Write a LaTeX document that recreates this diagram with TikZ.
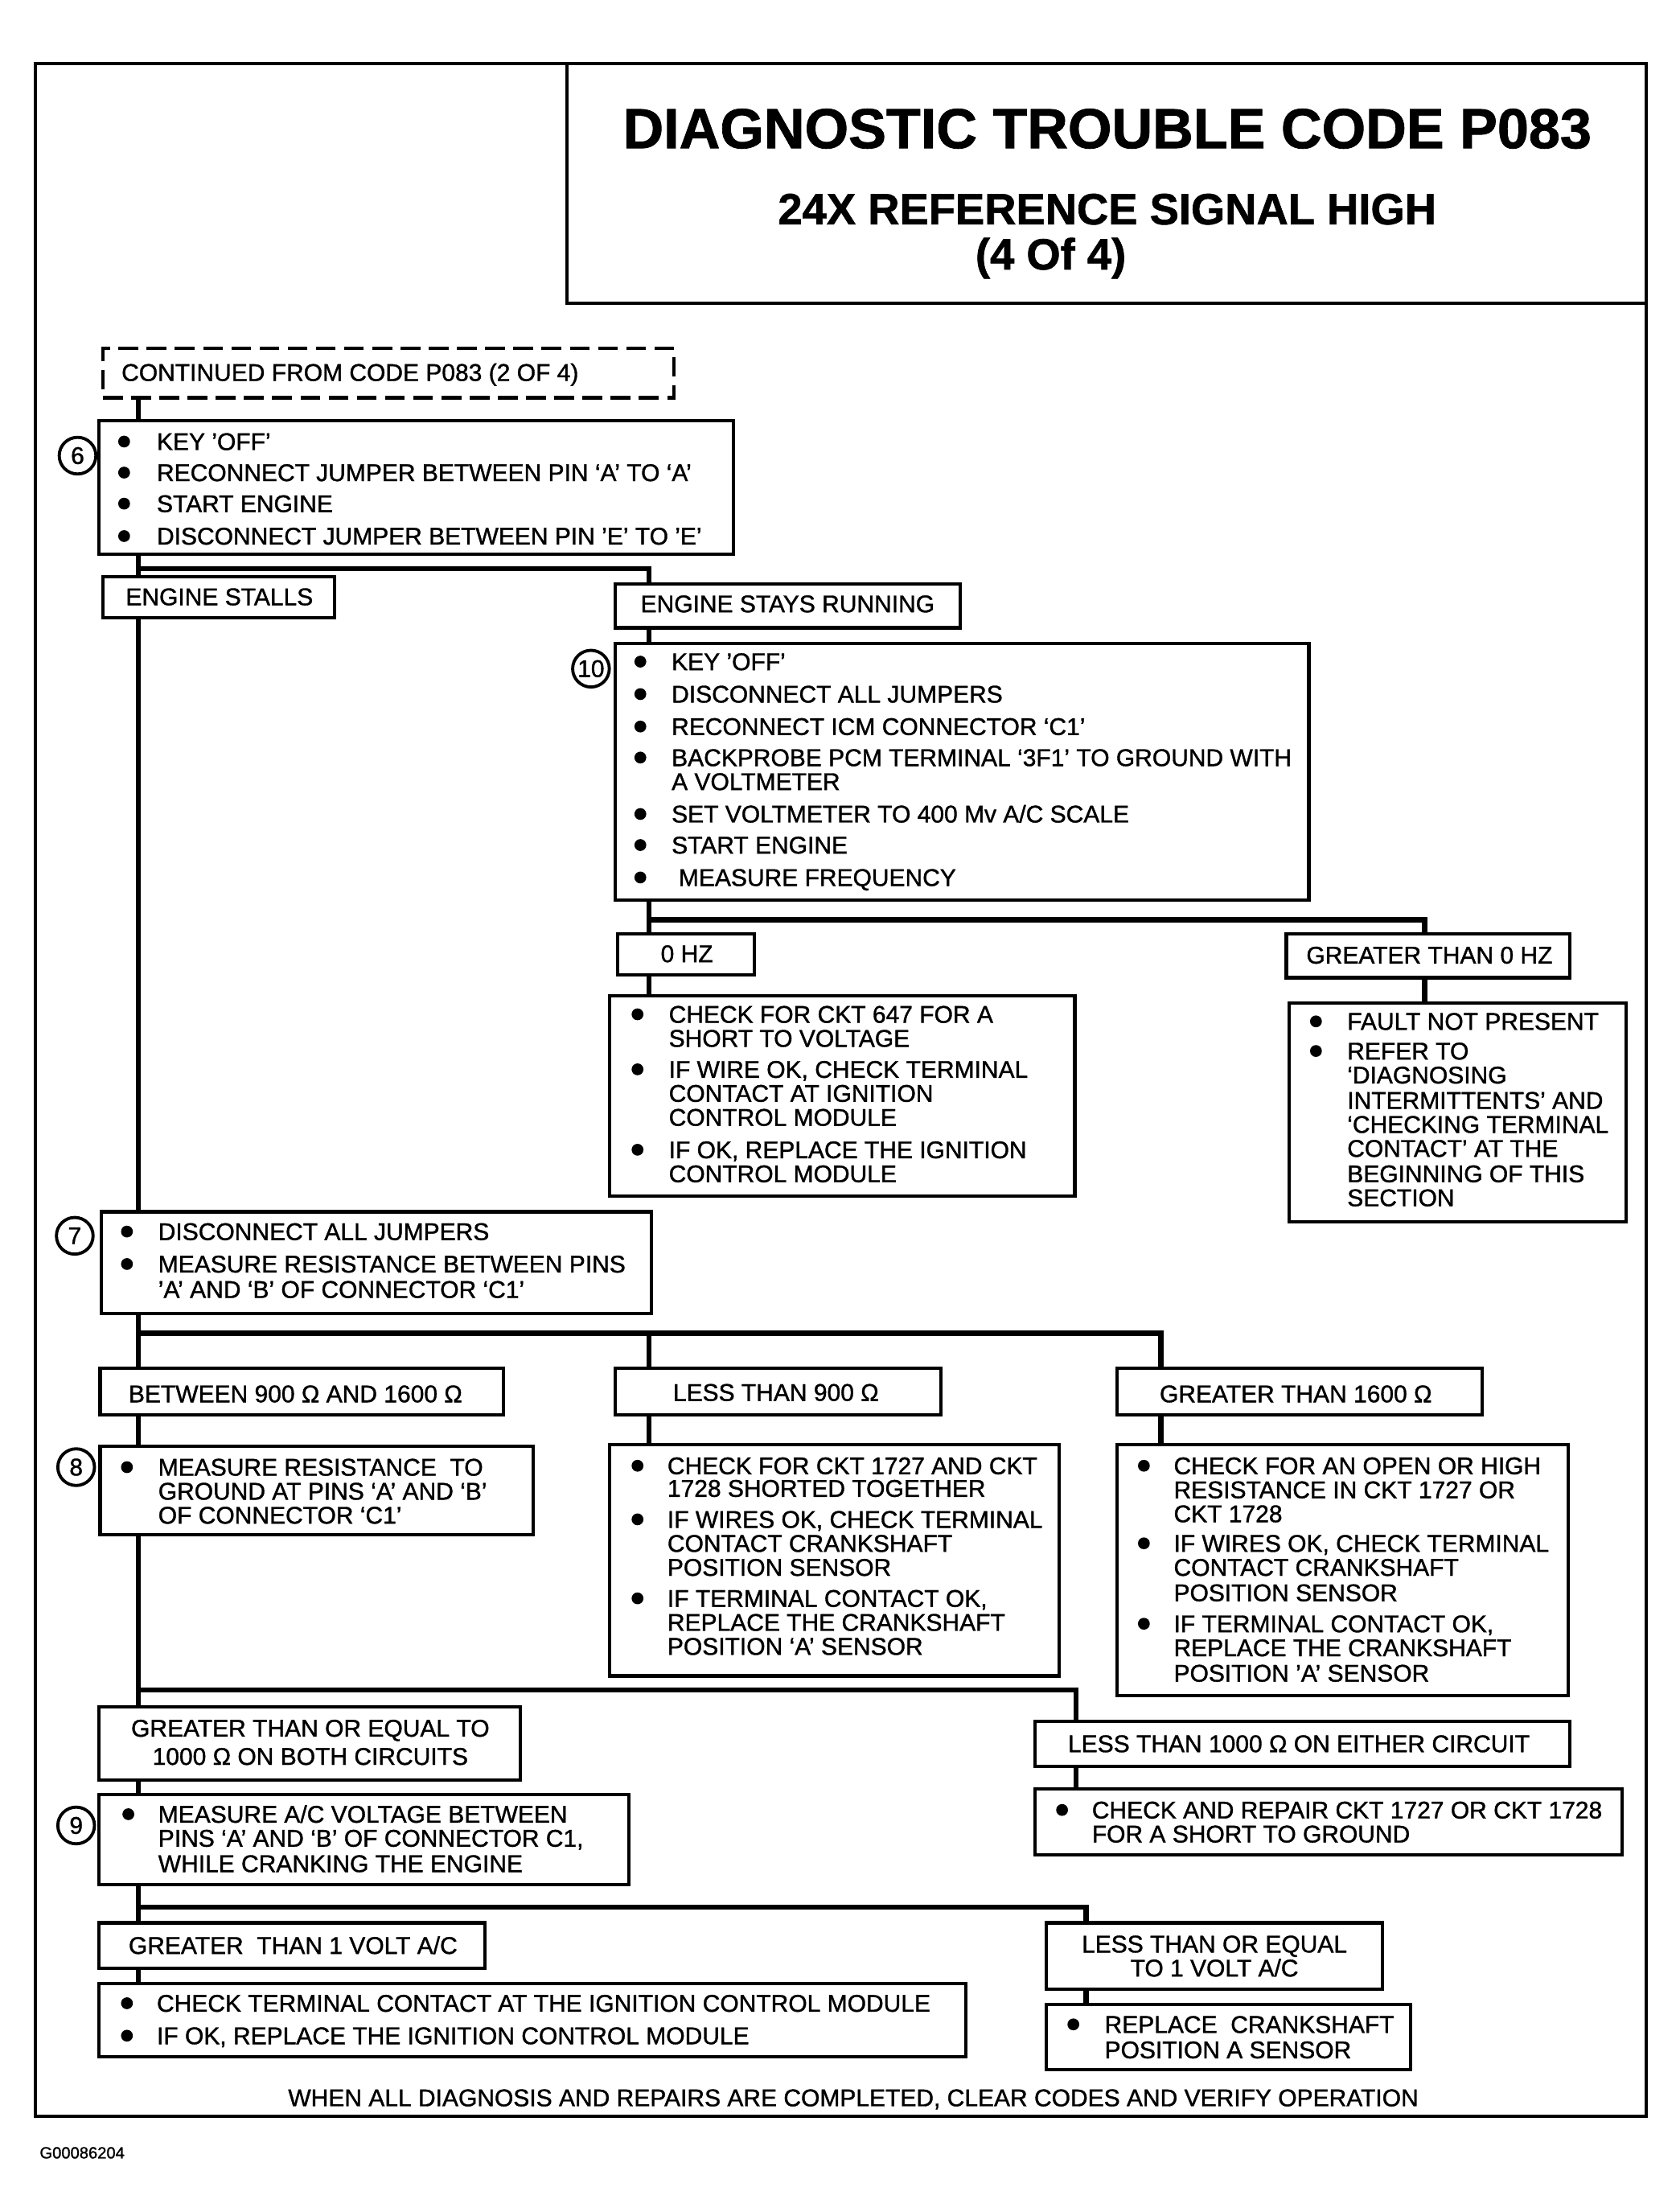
\documentclass[tikz,border=0pt]{standalone}
\usepackage{fontspec}
\setmainfont{Liberation Sans}[FakeBold=1.2]
\newcounter{tn}
\newcommand\bodyfont{\fontsize{17.1}{21}\selectfont}
\tikzset{
  box/.style={draw,rectangle,line width=2.4pt,inner sep=0pt},
  dbox/.style={box,dash pattern=on 14pt off 6pt},
  conn/.style={line width=3.6pt,line cap=rect,line join=miter},
  txt/.style={inner sep=0pt,font=\bodyfont},
  num/.style={draw,circle,line width=2.2pt,minimum size=26pt,inner sep=0pt,font=\bodyfont},
}
% box from corner (x1,y1) to (x2,y2)
\newcommand\bx[6][box]{\node[#1,minimum width={(#5-#3)*1pt},minimum height={(#6-#4)*1pt}] (#2) at ({(#3+#5)/2},{(#4+#6)/2}) {};}
% text line starting at x, centred on y
\newcommand\tx[3]{\stepcounter{tn}\node[txt,anchor=base west] (t\arabic{tn}) at (#1,#2+6) {#3};}
% centred text line
\newcommand\tc[3]{\stepcounter{tn}\node[txt,anchor=base] (t\arabic{tn}) at (#1,#2+6) {#3};}
% bullet
\newcommand\bu[2]{\fill (#1,#2) circle[radius=4.2];}
\begin{document}
\begin{tikzpicture}[x=1pt,y=-1pt]
\useasboundingbox (0,0) rectangle (1191,1568);
\fill[white] (0,0) rectangle (1191,1568);

% frame and title
\bx[box,line width=2.2pt]{frame}{25}{45}{1167}{1500}
\bx[box,line width=2.2pt]{tbox}{402}{45}{1167}{215}
\node[inner sep=0pt,anchor=base,font=\fontsize{40}{48}\selectfont\bfseries] (title1) at (785,105) {DIAGNOSTIC TROUBLE CODE P083};
\node[inner sep=0pt,anchor=base,font=\fontsize{31}{37}\selectfont\bfseries] (title2) at (785,159) {24X REFERENCE SIGNAL HIGH};
\node[inner sep=0pt,anchor=base,font=\fontsize{31}{37}\selectfont\bfseries] (title3) at (745,191) {(4 Of 4)};

% boxes
\bx[dbox]{cont}{73}{247}{478}{282}
\bx{b6}{70}{298}{520}{393}
\bx{stalls}{73}{409}{237}{438}
\bx{esr}{436}{414}{681}{445}
\bx{b10}{436}{456}{928}{638}
\bx{hz0}{438}{662}{535}{691}
\bx{gt0}{912}{662}{1113}{693}
\bx{ck647}{432}{706}{762}{848}
\bx{fault}{914}{711}{1153}{866}
\bx{b7}{72}{859}{462}{931}
\bx{btw}{71}{970}{357}{1003}
\bx{lt900}{436}{970}{667}{1003}
\bx{gt1600}{792}{970}{1051}{1003}
\bx{b8}{71}{1025}{378}{1088}
\bx{lt900b}{432}{1024}{751}{1188}
\bx{gt1600b}{792}{1024}{1112}{1202}
\bx{gte}{70}{1210}{369}{1262}
\bx{lt1000}{734}{1220}{1113}{1252}
\bx{b9}{70}{1272}{446}{1336}
\bx{rep}{734}{1268}{1150}{1315}
\bx{gt1v}{70}{1363}{344}{1395}
\bx{lte1}{742}{1363}{980}{1410}
\bx{ckicm}{70}{1406}{685}{1458}
\bx{repl}{742}{1421}{1000}{1467}

% step numbers
\node[num] (n6) at (55,323) {6};
\node[num] (n10) at (419,474) {10};
\node[num] (n7) at (53,876) {7};
\node[num] (n8) at (54,1040) {8};
\node[num] (n9) at (54,1294) {9};

% connectors
\coordinate (sp) at (98,0);
\draw[conn] (cont.south -| sp) -- (b6.north -| sp);
\draw[conn] (b6.south -| sp) -- (stalls.north -| sp);
\coordinate (j1) at (98,403); \coordinate (j1r) at (460,403);
\draw[conn] (j1) -- (j1r) -- (esr.north -| j1r);
\draw[conn] (stalls.south -| sp) -- (b7.north -| sp);
\draw[conn] (esr.south -| j1r) -- (b10.north -| j1r);
\coordinate (j2) at (460,652); \coordinate (j2r) at (1010,652);
\draw[conn] (b10.south -| j2) -- (hz0.north -| j2);
\draw[conn] (j2) -- (j2r) -- (gt0.north -| j2r);
\draw[conn] (hz0.south -| j2) -- (ck647.north -| j2);
\draw[conn] (gt0.south -| j2r) -- (fault.north -| j2r);
\coordinate (j3) at (98,945); \coordinate (j3m) at (460,945); \coordinate (j3r) at (823,945);
\draw[conn] (b7.south -| sp) -- (btw.north -| sp);
\draw[conn] (j3) -- (j3r) -- (gt1600.north -| j3r);
\draw[conn] (j3m) -- (lt900.north -| j3m);
\draw[conn] (btw.south -| sp) -- (b8.north -| sp);
\draw[conn] (lt900.south -| j3m) -- (lt900b.north -| j3m);
\draw[conn] (gt1600.south -| j3r) -- (gt1600b.north -| j3r);
\coordinate (j4) at (98,1198); \coordinate (j4r) at (763,1198);
\draw[conn] (b8.south -| sp) -- (gte.north -| sp);
\draw[conn] (j4) -- (j4r) -- (lt1000.north -| j4r);
\draw[conn] (gte.south -| sp) -- (b9.north -| sp);
\draw[conn] (lt1000.south -| j4r) -- (rep.north -| j4r);
\coordinate (j5) at (98,1352); \coordinate (j5r) at (770,1352);
\draw[conn] (b9.south -| sp) -- (gt1v.north -| sp);
\draw[conn] (j5) -- (j5r) -- (lte1.north -| j5r);
\draw[conn] (gt1v.south -| sp) -- (ckicm.north -| sp);
\draw[conn] (lte1.south -| j5r) -- (repl.north -| j5r);

% texts
\tx{86}{264}{CONTINUED FROM CODE P083 (2 OF 4)}

\bu{88}{313}\tx{111}{313}{KEY 'OFF'}
\bu{88}{335}\tx{111}{335}{RECONNECT JUMPER BETWEEN PIN `A' TO `A'}
\bu{88}{357}\tx{111}{357}{START ENGINE}
\bu{88}{380}\tx{111}{380}{DISCONNECT JUMPER BETWEEN PIN 'E' TO 'E'}

\tx{89}{423}{ENGINE STALLS}
\tx{454}{428}{ENGINE STAYS RUNNING}

\bu{454}{469}\tx{476}{469}{KEY 'OFF'}
\bu{454}{492}\tx{476}{492}{DISCONNECT ALL JUMPERS}
\bu{454}{515}\tx{476}{515}{RECONNECT ICM CONNECTOR `C1'}
\bu{454}{537}\tx{476}{537}{BACKPROBE PCM TERMINAL `3F1' TO GROUND WITH}
\tx{476}{554}{A VOLTMETER}
\bu{454}{577}\tx{476}{577}{SET VOLTMETER TO 400 Mv A/C SCALE}
\bu{454}{599}\tx{476}{599}{START ENGINE}
\bu{454}{622}\tx{481}{622}{MEASURE FREQUENCY}

\tc{487}{676}{0 HZ}
\tx{926}{677}{GREATER THAN 0 HZ}

\bu{452}{719}\tx{474}{719}{CHECK FOR CKT 647 FOR A}
\tx{474}{736}{SHORT TO VOLTAGE}
\bu{452}{758}\tx{474}{758}{IF WIRE OK, CHECK TERMINAL}
\tx{474}{775}{CONTACT AT IGNITION}
\tx{474}{792}{CONTROL MODULE}
\bu{452}{815}\tx{474}{815}{IF OK, REPLACE THE IGNITION}
\tx{474}{832}{CONTROL MODULE}

\bu{933}{724}\tx{955}{724}{FAULT NOT PRESENT}
\bu{933}{745}\tx{955}{745}{REFER TO}
\tx{955}{762}{`DIAGNOSING}
\tx{955}{780}{INTERMITTENTS' AND}
\tx{955}{797}{`CHECKING TERMINAL}
\tx{955}{814}{CONTACT' AT THE}
\tx{955}{832}{BEGINNING OF THIS}
\tx{955}{849}{SECTION}

\bu{90}{873}\tx{112}{873}{DISCONNECT ALL JUMPERS}
\bu{90}{896}\tx{112}{896}{MEASURE RESISTANCE BETWEEN PINS}
\tx{112}{914}{'A' AND `B' OF CONNECTOR `C1'}

\tx{91}{988}{BETWEEN 900 Ω AND 1600 Ω}
\tx{477}{987}{LESS THAN 900 Ω}
\tx{822}{988}{GREATER THAN 1600 Ω}

\bu{90}{1040}\tx{112}{1040}{MEASURE RESISTANCE\ \ TO}
\tx{112}{1057}{GROUND AT PINS `A' AND `B'}
\tx{112}{1074}{OF CONNECTOR `C1'}

\bu{452}{1039}\tx{473}{1039}{CHECK FOR CKT 1727 AND CKT}
\tx{473}{1055}{1728 SHORTED TOGETHER}
\bu{452}{1077}\tx{473}{1077}{IF WIRES OK, CHECK TERMINAL}
\tx{473}{1094}{CONTACT CRANKSHAFT}
\tx{473}{1111}{POSITION SENSOR}
\bu{452}{1133}\tx{473}{1133}{IF TERMINAL CONTACT OK,}
\tx{473}{1150}{REPLACE THE CRANKSHAFT}
\tx{473}{1167}{POSITION `A' SENSOR}

\bu{811}{1039}\tx{832}{1039}{CHECK FOR AN OPEN OR HIGH}
\tx{832}{1056}{RESISTANCE IN CKT 1727 OR}
\tx{832}{1073}{CKT 1728}
\bu{811}{1094}\tx{832}{1094}{IF WIRES OK, CHECK TERMINAL}
\tx{832}{1111}{CONTACT CRANKSHAFT}
\tx{832}{1129}{POSITION SENSOR}
\bu{811}{1151}\tx{832}{1151}{IF TERMINAL CONTACT OK,}
\tx{832}{1168}{REPLACE THE CRANKSHAFT}
\tx{832}{1186}{POSITION 'A' SENSOR}

\tc{220}{1225}{GREATER THAN OR EQUAL TO}
\tc{220}{1245}{1000 Ω ON BOTH CIRCUITS}
\tx{757}{1236}{LESS THAN 1000 Ω ON EITHER CIRCUIT}

\bu{91}{1286}\tx{112}{1286}{MEASURE A/C VOLTAGE BETWEEN}
\tx{112}{1303}{PINS `A' AND `B' OF CONNECTOR C1,}
\tx{112}{1321}{WHILE CRANKING THE ENGINE}

\bu{753}{1283}\tx{774}{1283}{CHECK AND REPAIR CKT 1727 OR CKT 1728}
\tx{774}{1300}{FOR A SHORT TO GROUND}

\tx{91}{1379}{GREATER\ \ THAN 1 VOLT A/C}
\tc{861}{1378}{LESS THAN OR EQUAL}
\tc{861}{1395}{TO 1 VOLT A/C}

\bu{90}{1420}\tx{111}{1420}{CHECK TERMINAL CONTACT AT THE IGNITION CONTROL MODULE}
\bu{90}{1443}\tx{111}{1443}{IF OK, REPLACE THE IGNITION CONTROL MODULE}

\bu{761}{1435}\tx{783}{1435}{REPLACE\ \ CRANKSHAFT}
\tx{783}{1453}{POSITION A SENSOR}

\tc{605}{1487}{WHEN ALL DIAGNOSIS AND REPAIRS ARE COMPLETED, CLEAR CODES AND VERIFY OPERATION}
\node[inner sep=0pt,anchor=base west,font=\fontsize{11.5}{14}\selectfont] (code) at (28,1530) {G00086204};
\end{tikzpicture}
\end{document}
